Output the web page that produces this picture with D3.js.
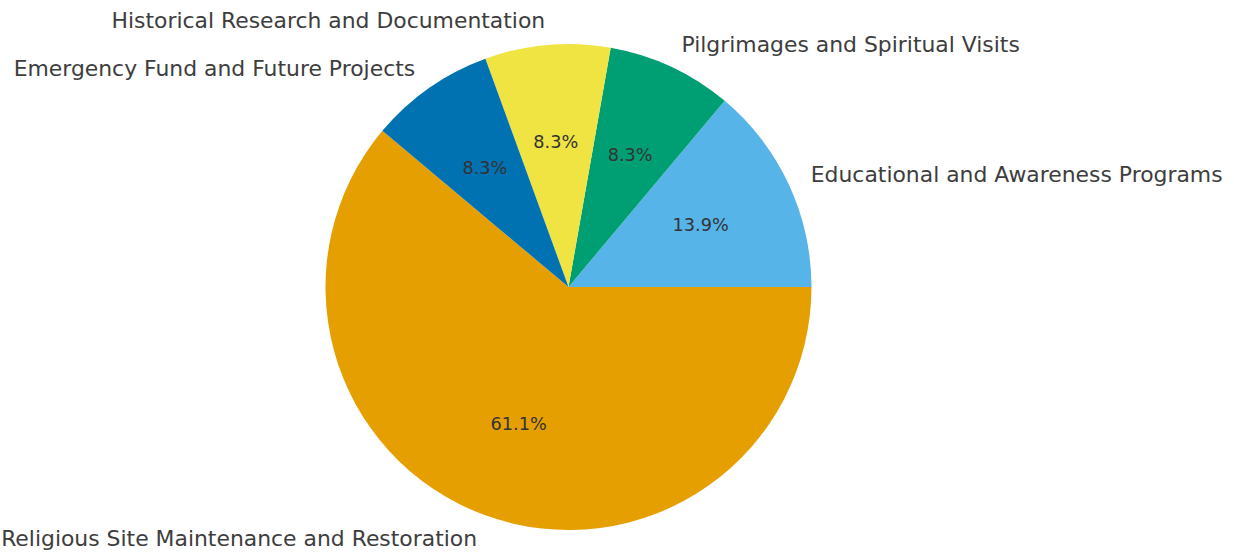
<!DOCTYPE html>
<html>
<head>
<meta charset="utf-8">
<script src="https://cdn.jsdelivr.net/npm/d3@7"></script>
<style>
  html, body { margin: 0; padding: 0; background: #ffffff; }
  svg { display: block; }
</style>
</head>
<body>
<svg id="chart" width="1234" height="552"></svg>
<script>
const categories = [
  "Religious Site Maintenance and Restoration",
  "Educational and Awareness Programs",
  "Pilgrimages and Spiritual Visits",
  "Historical Research and Documentation",
  "Emergency Fund and Future Projects"
];
const values = [220, 50, 30, 30, 30];
const colors = ["#E69F00", "#56B4E9", "#009E73", "#F0E442", "#0072B2"];
const startAngleDeg = 140; // matplotlib-style, counterclockwise from 3 o'clock

const width = 1234, height = 552;
const cx = 568.5, cy = 287, r = 243;

const svg = d3.select("#chart");
const g = svg.append("g").attr("transform", `translate(${cx},${cy})`);

const a0 = Math.PI / 2 - startAngleDeg * Math.PI / 180;
const pie = d3.pie().sort(null).value(d => d.value)
  .startAngle(a0).endAngle(a0 - 2 * Math.PI);
const data = categories.map((c, i) => ({ name: c, value: values[i], color: colors[i] }));
const arcs = pie(data);
const total = d3.sum(values);

const arc = d3.arc().innerRadius(0).outerRadius(r);

g.selectAll("path.slice").data(arcs).enter().append("path")
  .attr("class", "slice")
  .attr("d", arc)
  .attr("fill", d => d.data.color);

const mid = d => (d.startAngle + d.endAngle) / 2;

g.selectAll("text.label").data(arcs).enter().append("text")
  .attr("class", "label")
  .attr("x", d => 1.1 * r * Math.sin(mid(d)))
  .attr("y", d => -1.1 * r * Math.cos(mid(d)))
  .attr("text-anchor", d => Math.sin(mid(d)) > 0 ? "start" : "end")
  .attr("dominant-baseline", "central")
  .attr("font-family", "DejaVu Sans, sans-serif")
  .attr("font-size", 21.9)
  .attr("fill", "#3d3d3d")
  .text(d => d.data.name);

g.selectAll("text.pct").data(arcs).enter().append("text")
  .attr("class", "pct")
  .attr("x", d => 0.6 * r * Math.sin(mid(d)))
  .attr("y", d => -0.6 * r * Math.cos(mid(d)))
  .attr("text-anchor", "middle")
  .attr("dominant-baseline", "central")
  .attr("font-family", "DejaVu Sans, sans-serif")
  .attr("font-size", 17.7)
  .attr("fill", "#333333")
  .text(d => (d.value / total * 100).toFixed(1) + "%");
</script>
</body>
</html>
